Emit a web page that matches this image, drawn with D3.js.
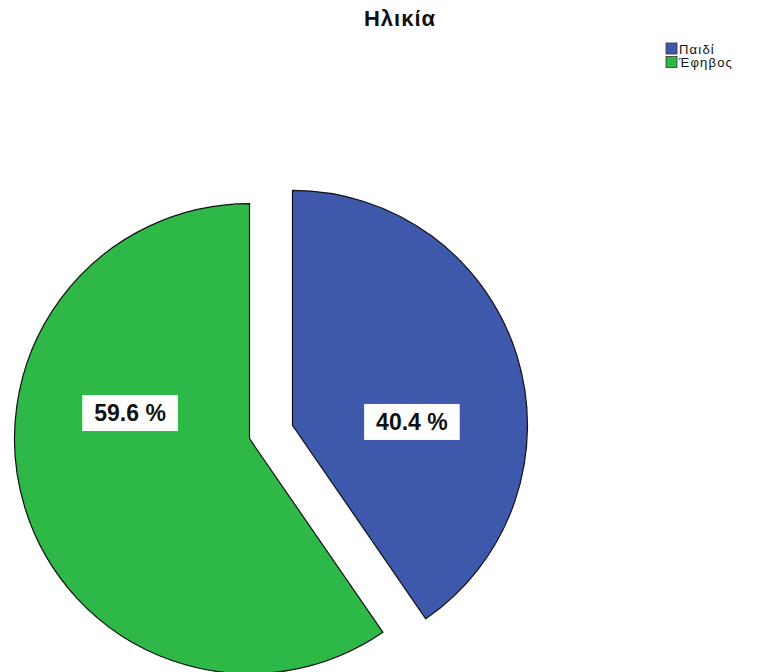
<!DOCTYPE html>
<html>
<head>
<meta charset="utf-8">
<script src="https://cdn.jsdelivr.net/npm/d3@7"></script>
<style>
  html, body { margin: 0; padding: 0; background: #fff; }
  svg { display: block; }
</style>
</head>
<body>
<svg id="chart" width="758" height="672"></svg>
<script>
// Age groups and their shares (percent)
const categories = ["Παιδί", "Έφηβος"];
const values = [40.4, 59.6];
const colors = ["#3E58AC", "#2EB848"];
const title = "Ηλικία";

const W = 758, H = 672;
const svg = d3.select("#chart");

// Pie geometry
const cx = 271, cy = 432, radius = 235, explode = 22.5;

const pie = d3.pie().sort(null).value(d => d.value).startAngle(0).endAngle(2 * Math.PI);
const arc = d3.arc().innerRadius(0).outerRadius(radius);
const color = d3.scaleOrdinal().domain(categories).range(colors);

const data = categories.map((c, i) => ({ name: c, value: values[i] }));
const arcs = pie(data);

const g = svg.append("g").attr("transform", `translate(${cx},${cy})`);

const slice = g.selectAll("g.slice").data(arcs).enter().append("g")
  .attr("class", "slice")
  .attr("transform", d => {
    const mid = (d.startAngle + d.endAngle) / 2;
    return `translate(${Math.sin(mid) * explode},${-Math.cos(mid) * explode})`;
  });

slice.append("path")
  .attr("d", arc)
  .attr("fill", d => color(d.data.name))
  .attr("stroke", "#111")
  .attr("stroke-width", 1.2)
  .attr("stroke-linejoin", "miter");

// Percentage labels in white boxes
const labels = g.selectAll("g.lbl").data(arcs).enter().append("g")
  .attr("class", "lbl")
  .attr("transform", d => {
    const mid = (d.startAngle + d.endAngle) / 2;
    const lx = Math.sin(mid) * radius * 0.628;
    const ly = -14.5 + Math.cos(mid) * 15;
    return `translate(${lx},${ly})`;
  });

labels.each(function(d) {
  const el = d3.select(this);
  const t = el.append("text")
    .attr("text-anchor", "middle")
    .attr("dy", "0.36em")
    .attr("font-family", "Liberation Sans, Arial, sans-serif")
    .attr("font-weight", "bold")
    .attr("font-size", 23)
    .attr("fill", "#111")
    .text(d3.format(".1f")(d.data.value) + " %");
  const bb = t.node().getBBox();
  el.insert("rect", "text")
    .attr("x", bb.x - 12)
    .attr("y", -18)
    .attr("width", bb.width + 24)
    .attr("height", 36)
    .attr("fill", "#fff");
});

// Title
svg.append("text")
  .attr("x", 400)
  .attr("y", 26)
  .attr("text-anchor", "middle")
  .attr("font-family", "Liberation Sans, Arial, sans-serif")
  .attr("font-weight", "bold")
  .attr("font-size", 22)
  .attr("letter-spacing", 1)
  .attr("fill", "#111")
  .text(title);

// Legend
const legend = svg.append("g").attr("transform", "translate(666,43)");
const item = legend.selectAll("g").data(categories).enter().append("g")
  .attr("transform", (d, i) => `translate(0,${i * 13.5})`);
item.append("rect")
  .attr("width", 11).attr("height", 11)
  .attr("fill", d => color(d))
  .attr("stroke", "#333").attr("stroke-width", 0.8);
item.append("text")
  .attr("x", 13).attr("y", 10.5)
  .attr("font-family", "Liberation Sans, Arial, sans-serif")
  .attr("font-size", 13)
  .attr("letter-spacing", 1.2)
  .attr("fill", "#111")
  .text(d => d);
</script>
</body>
</html>
